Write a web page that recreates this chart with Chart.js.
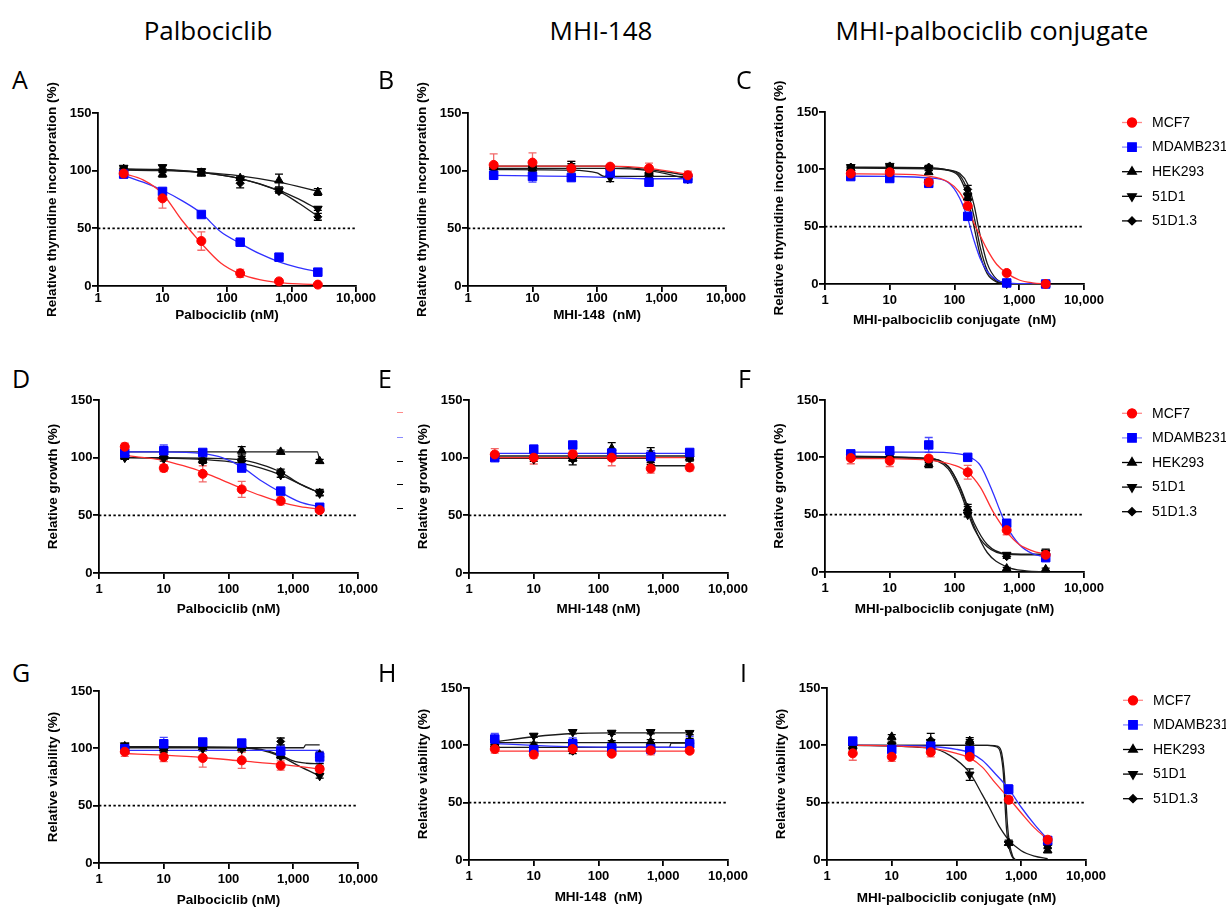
<!DOCTYPE html>
<html>
<head>
<meta charset="utf-8">
<script src="https://cdn.jsdelivr.net/npm/chart.js@4.4.1/dist/chart.umd.min.js"></script>
<style>
  body { margin: 0; background: #fff; width: 1226px; height: 907px; overflow: hidden; position: relative; }
  .col { position: absolute; top: 15px; width: 400px; text-align: center; font: 26px 'Open Sans', sans-serif; line-height: 30px; color: #000; }
  .tag { position: absolute; font: 25px 'Open Sans', sans-serif; line-height: 30px; color: #000; }
  .stub { position: absolute; width: 6px; height: 1px; }
  canvas { position: absolute; }
</style>
</head>
<body>
<div class="col" style="left:8px">Palbociclib</div>
<div class="col" style="left:401px">MHI-148</div>
<div class="col" style="left:792px">MHI-palbociclib conjugate</div>

<script>
// doses (nM) and axis ticks
const DOSES = [2.5, 10, 40, 160, 640, 2560];
const CELL_LINES = ['MCF7', 'MDAMB231', 'HEK293', '51D1', '51D1.3'];
const X_TICKS = [1, 10, 100, 1000, 10000];
const Y_TICKS = [0, 50, 100, 150];
const CUTOFF = 50;

// A - thymidine, palbociclib
const A_VAL = [
  [97.5, 76, 39, 11, 4, 1.2],
  [97, 82, 62, 38, 25, 12],
  [101, 97, 97.5, 93.5, 91.5, 81.5],
  [102.5, 103, 99.5, 92, 83, 67],
  [102, 100, 99, 89, 82, 60]
];
const A_ERR = [
  [2, 8.5, 8, 3.5, 1, 0.5],
  [1, 1.5, 1.5, 1.5, 1, 0.8],
  [1.5, 2.5, 2, 2, 5.5, 3],
  [1.5, 2, 2, 2.5, 1.5, 1.5],
  [1, 1.5, 2.5, 4, 1.5, 3]
];
const A_FIT = [
  [[2.5, 97.5], [5, 92], [10, 80], [20, 57], [40, 37], [80, 20], [160, 10.5], [320, 5.5], [640, 3], [1280, 1.8], [2560, 1.3]],
  [[2.5, 96], [5, 90], [10, 83], [20, 74], [40, 63], [80, 47], [160, 37], [320, 28], [640, 21], [1280, 16], [2560, 12.5]],
  [[2.5, 100.5], [10, 100], [40, 98.5], [160, 95.5], [640, 90], [2560, 82]],
  [[2.5, 101.5], [10, 101], [40, 98.5], [160, 93], [640, 83], [1280, 75.5], [2560, 66.5]],
  [[2.5, 101], [10, 100.5], [40, 98.5], [160, 93], [640, 82], [1280, 72], [2560, 60.5]]
];

// B - thymidine, MHI-148
const B_VAL = [
  [105, 107, 102, 103.5, 102, 96],
  [96, 95, 94, 98, 90, 93],
  [103, 102, 104, 103, 98, 94],
  [101, 101, 101, 94, 96, 93],
  [103, 104, 103, 103, 97, 93]
];
const B_ERR = [
  [9.5, 8.5, 6, 1.5, 4.5, 3.5],
  [1.5, 5, 1.5, 1.5, 1.5, 2.5],
  [2, 2, 4, 1.5, 2, 2],
  [1.5, 2, 2, 3.5, 2, 2],
  [1.5, 1.5, 3, 1.5, 2, 2]
];
const B_FIT = [
  [[2.5, 104], [160, 104], [640, 102], [2560, 97]],
  [[2.5, 96], [10, 95.5], [40, 95], [160, 94], [640, 93], [2560, 93]],
  [[2.5, 104], [120, 104], [640, 101], [2560, 96]],
  [[2.5, 101], [40, 100.5], [100, 98], [130, 95], [2560, 95]],
  [[2.5, 102], [160, 102], [640, 100], [2560, 93]]
];

// C - thymidine, conjugate
const C_VAL = [
  [96.3, 97.5, 88.7, 68, 9.6, 0],
  [93.7, 92, 87.8, 59, 0.9, 0],
  [101, 100.7, 97.5, 75.5, 0.5, 0],
  [102, 103, 100.7, 76.5, 0.4, 0],
  [102, 103, 102, 82.5, 0.4, 0]
];
const C_ERR = [
  [1.5, 1.5, 2, 2, 1, 0.5],
  [1.5, 2, 2, 2.5, 0.5, 0.5],
  [1, 1, 1.5, 2.5, 0.5, 0.5],
  [1, 1, 1.5, 3, 0.5, 0.5],
  [1, 1, 1.5, 3.5, 0.5, 0.5]
];
const C_FIT = [
  [[2.5, 96], [10, 95.8], [40, 94], [80, 89], [120, 80], [160, 67], [200, 53], [250, 42], [320, 30], [450, 17], [640, 9.5], [1000, 3.5], [1600, 1], [2560, 0.2]],
  [[2.5, 94], [10, 93.8], [40, 92.5], [80, 88.5], [120, 75], [160, 57], [200, 38], [250, 22], [320, 11], [450, 3.5], [640, 1], [1280, 0.2], [2560, 0]],
  [[2.5, 101], [40, 100.5], [80, 99], [120, 93], [160, 75], [200, 50], [250, 25], [320, 9], [450, 1.7], [640, 0.3]],
  [[2.5, 101.5], [40, 101], [80, 99.3], [120, 95], [160, 81], [200, 59], [250, 32], [320, 12], [450, 2.5], [640, 0.4]],
  [[2.5, 102], [40, 101.5], [80, 99.5], [120, 96.5], [160, 87], [200, 69], [250, 42], [320, 18], [450, 4], [640, 0.6]]
];

// D - growth, palbociclib
const D_VAL = [
  [109.5, 91, 86, 72.5, 62.5, 54.5],
  [104, 106, 104.5, 91, 71, 57],
  [101, 101, 98, 106, 105, 97],
  [100, 99, 97, 95.5, 85, 69],
  [100, 101, 98, 99, 88, 70]
];
const D_ERR = [
  [3, 3, 7, 7, 3.5, 2],
  [1.5, 5, 1.5, 2, 2, 1.5],
  [1.5, 1.5, 1.5, 3.5, 1.5, 1.5],
  [1.5, 2, 2, 2, 2, 2],
  [1.5, 2, 1.5, 2, 2, 2.5]
];
const D_FIT = [
  [[2.5, 102], [5, 100], [10, 97.5], [20, 93], [40, 87.5], [80, 80.5], [160, 73.5], [320, 67], [640, 61.5], [1280, 57.5], [2560, 55.5]],
  [[2.5, 105], [10, 105], [40, 103.5], [80, 100], [160, 92], [320, 80], [640, 70], [1280, 61.5], [2560, 57.5]],
  [[2.5, 105], [2350, 105], [2560, 97.5]],
  [[2.5, 100], [10, 99.5], [40, 98.5], [160, 95], [320, 91], [640, 85], [1280, 77], [2560, 69.5]],
  [[2.5, 100], [10, 100], [40, 99.5], [160, 98], [320, 94], [640, 87.5], [1280, 77], [2560, 69.5]]
];

// E - growth, MHI-148
const E_VAL = [
  [102.8, 100, 103, 100, 90.6, 91.5],
  [100, 107.4, 111, 104, 101, 104.5],
  [101, 102, 99.3, 108, 103.7, 100],
  [100.7, 98.7, 98.7, 102, 97, 99],
  [101, 101, 99, 103, 98, 100.7]
];
const E_ERR = [
  [5, 5.5, 3, 7, 4, 3],
  [1.5, 2, 1.5, 2, 5, 1.5],
  [2, 2, 2, 5, 5, 2],
  [1.5, 2, 5, 2, 3, 2],
  [1.5, 1.5, 2, 2, 2, 1.5]
];
const E_FIT = [
  [[2.5, 100], [2560, 100]],
  [[2.5, 103.8], [2560, 103.8]],
  [[2.5, 101.5], [2560, 101.5]],
  [[2.5, 99.5], [600, 99.5], [700, 93], [2560, 93]],
  [[2.5, 100.5], [2560, 100.5]]
];

// F - growth, conjugate
const F_VAL = [
  [99.4, 97, 99, 87, 36.5, 15],
  [103, 105.8, 110.8, 100, 42.5, 12.5],
  [101, 101.5, 94, 55.5, 3, 2.3],
  [100, 101.7, 96, 50, 15, 17],
  [100, 101, 97.7, 54, 13.4, 16.3]
];
const F_ERR = [
  [5, 5, 2, 6, 4, 2],
  [2.5, 2, 6.5, 1.5, 2, 1.5],
  [2, 2, 3, 3.5, 1, 1],
  [2, 2, 2, 2, 1.5, 3],
  [2, 2, 2, 3, 1.5, 2]
];
const F_FIT = [
  [[2.5, 99], [10, 98.8], [40, 97.5], [100, 93], [160, 87], [250, 74], [400, 52], [640, 35], [1000, 24], [1600, 18.5], [2560, 15.5]],
  [[2.5, 104.5], [40, 104.5], [100, 103.5], [160, 101], [250, 93], [400, 68], [500, 54], [640, 40], [1000, 24], [1600, 16], [2560, 13]],
  [[2.5, 101], [40, 99], [80, 92], [120, 74], [160, 55], [200, 40], [320, 17], [640, 4.5], [1280, 1], [2560, 0.2]],
  [[2.5, 100], [40, 98], [80, 90], [120, 71], [160, 52], [200, 38], [320, 22], [640, 15.5], [2560, 15]],
  [[2.5, 100.5], [40, 99], [80, 92], [120, 75], [160, 57], [200, 43], [320, 24], [640, 16], [2560, 15.5]]
];

// G - viability, palbociclib
const G_VAL = [
  [97, 92.4, 91.6, 89.5, 85, 82],
  [99.7, 104, 105.5, 104.6, 97.7, 92.4],
  [101.7, 100, 101, 100.3, 94, 94.5],
  [102.6, 98, 99.7, 99.7, 93, 76],
  [101.7, 99.7, 101, 100.6, 106, 83.7]
];
const G_ERR = [
  [4, 4, 8, 7, 4, 3],
  [2, 5.5, 2, 1.5, 5, 5],
  [2, 2, 2, 2, 2, 2],
  [1.5, 2, 2, 2, 2, 2],
  [1.5, 2, 2, 2, 3, 3]
];
const G_FIT = [
  [[2.5, 95.5], [10, 94], [40, 92], [160, 89], [640, 86], [2560, 82]],
  [[2.5, 98.3], [2560, 98.3]],
  [[2.5, 100.5], [1450, 100.5], [1550, 103], [2560, 103]],
  [[2.5, 101], [160, 100.5], [320, 98.5], [640, 93], [1280, 84], [2560, 76]],
  [[2.5, 101.5], [160, 101], [320, 99], [640, 94], [1000, 89], [1600, 87], [2560, 86.5]]
];

// H - viability, MHI-148
const H_VAL = [
  [96.8, 91.9, 96.8, 92.7, 95.6, 95.3],
  [105.5, 96.2, 101.4, 97.7, 96.8, 101.4],
  [101, 100.6, 102, 102, 103, 104],
  [102.6, 108.4, 111.6, 111, 111.6, 110.8],
  [100.6, 99, 94.8, 98.3, 98.5, 98.5]
];
const H_ERR = [
  [3.5, 3, 2, 1.5, 4, 2],
  [5, 2, 5, 4, 4, 6.5],
  [2, 2, 2, 2, 2, 2],
  [1.5, 1.5, 1.5, 1.5, 1.5, 1.5],
  [1.5, 2, 2, 2, 2, 2]
];
const H_FIT = [
  [[2.5, 95], [2560, 95]],
  [[2.5, 101.5], [10, 100], [40, 98.8], [160, 98.4], [2560, 98.3]],
  [[2.5, 102.3], [2560, 102.3]],
  [[2.5, 103], [10, 107.5], [40, 110.3], [160, 110.8], [2560, 110.8]],
  [[2.5, 98.3], [1250, 98.3], [1320, 102], [2560, 102]]
];

// I - viability, conjugate
const I_VAL = [
  [93, 90, 94, 90, 52.5, 17.7],
  [103.7, 96.4, 99.3, 95.3, 61.7, 17],
  [99.3, 107.4, 101.7, 103.7, 14.8, 8.4],
  [98, 100, 103, 74.5, 14.2, 11.9],
  [98, 101.7, 104.5, 103, 15.3, 12.7]
];
const I_ERR = [
  [6, 4, 4, 2, 3, 2],
  [2, 2, 2, 2, 4, 2],
  [2, 2, 2, 3, 1.5, 2],
  [2, 2, 2, 5, 1.5, 2],
  [2, 2, 6, 2, 2, 2]
];
const I_FIT = [
  [[2.5, 100], [10, 99.5], [40, 97.5], [100, 93], [160, 89], [250, 81], [400, 67], [640, 54], [1000, 41], [1600, 28], [2560, 18]],
  [[2.5, 100], [10, 99.8], [40, 99], [100, 96.5], [160, 93.5], [250, 87], [400, 75], [640, 62], [1000, 46], [1600, 31], [2560, 18]],
  [[2.5, 100], [300, 100], [420, 98.5], [480, 93], [530, 75], [560, 50], [590, 28], [640, 12], [720, 3], [800, 0]],
  [[2.5, 100], [40, 97.5], [80, 91], [160, 76], [250, 57], [320, 46], [450, 30], [640, 17.5], [1000, 8], [1600, 3.3], [2560, 1.2]],
  [[2.5, 100], [320, 100], [440, 99], [500, 93], [550, 74], [580, 52], [610, 32], [660, 14], [740, 3], [820, 0]]
];

// styling
const COLORS = ['#ff0000', '#0000ff', '#000000', '#000000', '#000000'];
const CURVE_COLORS = ['#ff3030', '#3030ff', '#1a1a1a', '#1a1a1a', '#1a1a1a'];
const ERR_COLORS = ['#f26a6a', '#4a4aff', '#000000', '#000000', '#000000'];
const LEGEND_LINE = ['rgba(255,60,60,0.6)', 'rgba(60,60,255,0.6)', '#000', '#000', '#000'];
const POINT_STYLES = ['circle', 'rect', 'triangle', 'triangle', 'rectRot'];
const POINT_ROT = [0, 0, 0, 180, 0];
const POINT_R = [4.5, 6, 5, 5, 4];

const YW = 62, XH = 48, PT = 40;
const TICK_FONT = { family: "'Liberation Sans', Arial, sans-serif", size: 13, weight: 'bold' };
const TITLE_FONT = { family: "'Liberation Sans', Arial, sans-serif", size: 13.5, weight: 'bold' };
const TITLE_HALF = 13.5 * 1.2 / 2;

const Y_THY = 'Relative thymidine incorporation (%)';
const Y_GRO = 'Relative growth (%)';
const Y_VIA = 'Relative viability (%)';

const PANELS = [
  { tag: 'A', box: [98, 113, 356, 286], val: A_VAL, err: A_ERR, fit: A_FIT, y: Y_THY, x: 'Palbociclib (nM)', tick: -1.5, tOff: 29 },
  { tag: 'B', box: [468, 113, 726, 286], val: B_VAL, err: B_ERR, fit: B_FIT, y: Y_THY, x: 'MHI-148  (nM)', tick: -1.5, tOff: 29 },
  { tag: 'C', box: [825, 112, 1084, 284], val: C_VAL, err: C_ERR, fit: C_FIT, y: Y_THY, x: 'MHI-palbociclib conjugate  (nM)', tick: 2.5, tOff: 36.5, legend: { dx: 48, dy: 10.5 } },
  { tag: 'D', box: [99, 400, 358, 573], val: D_VAL, err: D_ERR, fit: D_FIT, y: Y_GRO, x: 'Palbociclib (nM)', tick: 2.5, tOff: 36.5 },
  { tag: 'E', box: [469, 400, 728, 573], val: E_VAL, err: E_ERR, fit: E_FIT, y: Y_GRO, x: 'MHI-148 (nM)', tick: 2.5, tOff: 36.5 },
  { tag: 'F', box: [825, 400, 1084, 572], val: F_VAL, err: F_ERR, fit: F_FIT, y: Y_GRO, x: 'MHI-palbociclib conjugate (nM)', tick: 2.5, tOff: 37, legend: { dx: 48, dy: 13.3 } },
  { tag: 'G', box: [99, 691, 358, 863], val: G_VAL, err: G_ERR, fit: G_FIT, y: Y_VIA, x: 'Palbociclib (nM)', tick: 2.5, tOff: 37 },
  { tag: 'H', box: [469, 688, 728, 860], val: H_VAL, err: H_ERR, fit: H_FIT, y: Y_VIA, x: 'MHI-148  (nM)', tick: 2.5, tOff: 37 },
  { tag: 'I', box: [827, 688, 1086, 860], val: I_VAL, err: I_ERR, fit: I_FIT, y: Y_VIA, x: 'MHI-palbociclib conjugate (nM)', tick: 3, tOff: 38, legend: { dx: 47, dy: 12.3 } }
];
const TAG_POS = { A: [12, 64], B: [378, 64], C: [736, 64], D: [12, 363], E: [378, 363], F: [738, 363], G: [12, 657], H: [378, 657], I: [740, 657] };

function marker(ctx, i, x, y) {
  const opts = { pointStyle: POINT_STYLES[i], rotation: POINT_ROT[i], radius: POINT_R[i], borderWidth: 1 };
  ctx.fillStyle = COLORS[i];
  ctx.strokeStyle = COLORS[i];
  Chart.helpers.drawPoint(ctx, opts, x, y);
}

const errorBars = {
  id: 'errorBars',
  beforeDatasetsDraw(chart) {
    const { ctx, scales: { x, y } } = chart;
    chart.data.datasets.forEach(ds => {
      if (!ds.errors) return;
      ctx.save();
      ctx.strokeStyle = ds.errorColor;
      ctx.lineWidth = 1.3;
      ds.data.forEach((pt, i) => {
        const e = ds.errors[i];
        if (!e) return;
        const px = x.getPixelForValue(pt.x);
        const top = y.getPixelForValue(pt.y + e);
        const bot = y.getPixelForValue(Math.max(pt.y - e, 0));
        ctx.beginPath();
        ctx.moveTo(px, top); ctx.lineTo(px, bot);
        ctx.moveTo(px - 4, top); ctx.lineTo(px + 4, top);
        ctx.moveTo(px - 4, bot); ctx.lineTo(px + 4, bot);
        ctx.stroke();
      });
      ctx.restore();
    });
  }
};

const sideLegend = {
  id: 'sideLegend',
  afterDraw(chart, args, opts) {
    if (!opts || opts.dx === undefined) return;
    const { ctx, chartArea } = chart;
    ctx.save();
    CELL_LINES.forEach((name, i) => {
      const cx = chartArea.right + opts.dx;
      const cy = chartArea.top + opts.dy + i * 24.6;
      ctx.strokeStyle = LEGEND_LINE[i];
      ctx.lineWidth = 1.3;
      ctx.beginPath(); ctx.moveTo(cx - 10, cy); ctx.lineTo(cx + 10, cy); ctx.stroke();
      marker(ctx, i, cx, cy);
      ctx.fillStyle = '#000';
      ctx.font = "14px 'Liberation Sans', Arial, sans-serif";
      ctx.textBaseline = 'middle';
      ctx.textAlign = 'left';
      ctx.fillText(name, cx + 20, cy + 0.5);
    });
    ctx.restore();
  }
};

function buildPanel(p) {
  const [L, T, R, B] = p.box;
  const padR = p.legend ? 1226 - R : 30;
  const cv = document.createElement('canvas');
  cv.width = R - L + YW + padR;
  cv.height = B - T + PT + XH;
  cv.style.left = (L - YW) + 'px';
  cv.style.top = (T - PT) + 'px';
  document.body.appendChild(cv);

  const tag = document.createElement('div');
  tag.className = 'tag';
  tag.textContent = p.tag;
  tag.style.left = TAG_POS[p.tag][0] + 'px';
  tag.style.top = TAG_POS[p.tag][1] + 'px';
  document.body.appendChild(tag);

  const datasets = [];
  CELL_LINES.forEach((name, i) => {
    datasets.push({
      label: name,
      data: DOSES.map((d, j) => ({ x: d, y: p.val[i][j] })),
      errors: p.err[i],
      errorColor: ERR_COLORS[i],
      showLine: false,
      pointStyle: POINT_STYLES[i],
      pointRotation: POINT_ROT[i],
      pointRadius: POINT_R[i],
      pointBackgroundColor: COLORS[i],
      pointBorderColor: COLORS[i],
      pointBorderWidth: 1,
      clip: false,
      order: i
    });
  });
  CELL_LINES.forEach((name, i) => {
    datasets.push({
      label: name + ' fit',
      data: p.fit[i].map(([x, y]) => ({ x, y })),
      borderColor: CURVE_COLORS[i],
      borderWidth: 1.3,
      pointRadius: 0,
      cubicInterpolationMode: 'monotone',
      order: 10 + i
    });
  });
  datasets.push({
    label: 'IC50',
    data: [X_TICKS[0], X_TICKS[X_TICKS.length - 1]].map(x => ({ x, y: CUTOFF })),
    borderColor: '#000',
    borderWidth: 1.8,
    borderDash: [2.4, 2.4],
    pointRadius: 0,
    order: 20
  });

  new Chart(cv, {
    type: 'line',
    data: { datasets },
    plugins: [errorBars, sideLegend],
    options: {
      responsive: false,
      animation: false,
      events: [],
      layout: { padding: { top: PT, right: padR, left: 0, bottom: 0 } },
      plugins: {
        legend: { display: false },
        tooltip: { enabled: false },
        sideLegend: p.legend || false
      },
      scales: {
        x: {
          type: 'logarithmic',
          min: 1, max: 10000,
          afterBuildTicks: s => { s.ticks = X_TICKS.map(v => ({ value: v })); },
          afterFit: s => { s.height = XH; },
          ticks: {
            autoSkip: false, maxRotation: 0, padding: p.tick, color: '#000', font: TICK_FONT,
            callback: v => Number(v).toLocaleString('en-US')
          },
          grid: { drawOnChartArea: false, color: '#000', lineWidth: 1.8, tickLength: 6 },
          border: { color: '#000', width: 1.8 },
          title: { display: true, text: p.x, color: '#000', font: TITLE_FONT, padding: { top: 0, bottom: XH - p.tOff - TITLE_HALF } }
        },
        y: {
          min: 0, max: 150,
          afterBuildTicks: s => { s.ticks = Y_TICKS.map(v => ({ value: v })); },
          afterFit: s => { s.width = YW; },
          ticks: { padding: 0.5, color: '#000', font: TICK_FONT },
          grid: { drawOnChartArea: false, color: '#000', lineWidth: 1.8, tickLength: 6 },
          border: { color: '#000', width: 1.8 },
          title: { display: true, text: p.y, color: '#000', font: TITLE_FONT, padding: { top: YW - 45.5 - TITLE_HALF, bottom: 0 } }
        }
      }
    }
  });
}

PANELS.forEach(buildPanel);

// clipped legend remnants left of panel E
const STUB_Y = [412, 436.7, 461, 484, 507.7];
STUB_Y.forEach((y, i) => {
  const d = document.createElement('div');
  d.className = 'stub';
  d.style.left = '397px';
  d.style.top = y + 'px';
  d.style.background = LEGEND_LINE[i];
  document.body.appendChild(d);
});
</script>
</body>
</html>
